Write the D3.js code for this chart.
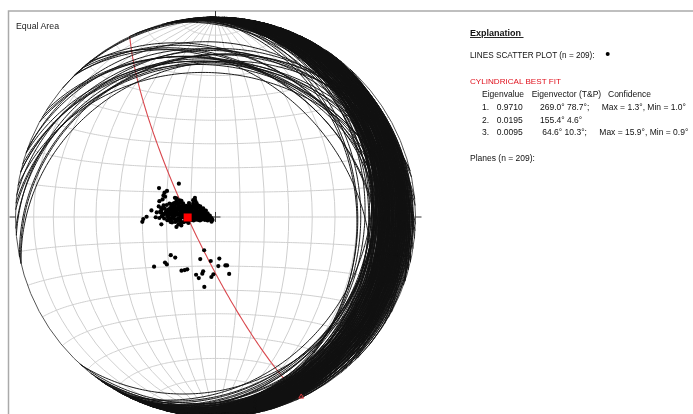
<!DOCTYPE html>
<html>
<head>
<meta charset="utf-8">
<script src="https://cdn.jsdelivr.net/npm/d3@7"></script>
<style>
    body { margin: 0; background: #fff; }
    svg { display: block; font-family: "Liberation Sans", Arial, sans-serif; filter: blur(0.3px); }
</style>
</head>
<body>
<svg width="693" height="414"></svg>
<script>
let posUpperScatter = [
    [-15.2,13.4],[-23.4,11.5],[-20,10.4],[-21,9.7],[-21.4,8.6],[-20.7,8.1],[-21.7,7],[-23,6.3],
    [-26.2,2.6],[-28.2,0.1],[-29.6,-0.8],[-30,-1.9],[-24.4,-0.1],[-22.1,-2.9],[-15.9,-4]
];
let posLowerScatter = [
    [-4.7,-13.5],[-18.7,-15.3],[-16.9,-16.3],[-6.4,-17.1],[1.6,-16.9],[-2,-17.9],[-21.4,-18.2],[-20.7,-19],
    [-26.3,-19.7],[1.2,-20],[4.2,-19.7],[4.9,-19.7],[-12.1,-21.2],[-13.2,-21.5],[-14.6,-21.7],[-5.3,-22.1],
    [-5.7,-23.1],[-0.9,-23.4],[-1.8,-24.5],[5.9,-23.2],[-8.4,-23.5],[-7.3,-24.9],[-5,-28.6]
];
let posCluster = [
    [-16.6,7.7],[-15.9,7.5],[-8.4,7.7],
    [-14.6,6.7],[-13.9,6.5],[-9.1,6.8],[-8.2,6.5],
    [-16.9,5.6],[-15.9,5.4],[-14.6,5.7],[-13.2,5.5],[-10.8,5.6],[-9.1,5.4],[-7.7,5.6],
    [-18,4.5],[-16.6,4.3],[-15.2,4.6],[-14.2,4.4],[-13.2,4.6],[-12.5,4.3],[-11.8,4.5],[-10.5,4.6],[-9.4,4.3],[-8.2,4.5],[-7,4.6],[-6.2,4.3],
    [-22.1,3.5],[-20.7,3.3],[-18.4,3.6],[-17.3,3.4],[-15.9,3.5],[-14.8,3.7],[-13.7,3.4],[-12.5,3.5],[-11.4,3.3],[-10.5,3.6],[-9.9,3.4],[-9.4,3.6],[-8.2,3.4],[-7.2,3.6],[-6,3.4],[-5,3.5],
    [-22.1,2.6],[-20,2.4],[-18.9,2.7],[-17.8,2.5],[-16.6,2.6],[-15.5,2.8],[-14.4,2.5],[-13.2,2.6],[-12.1,2.4],[-11.1,2.7],[-10.5,2.5],[-9.9,2.6],[-8.8,2.4],[-8.2,2.7],[-7.7,2.6],[-6.6,2.4],[-5.7,2.7],[-4.7,2.5],[-3.9,2.6],
    [-22.1,1.6],[-20.7,1.4],[-19.3,1.7],[-18.2,1.5],[-17.1,1.6],[-16,1.8],[-14.9,1.5],[-13.9,1.6],[-12.8,1.4],[-11.8,1.7],[-11.2,1.5],[-10.7,1.6],[-9.6,1.4],[-9.1,1.7],[-8.6,1.6],[-7.5,1.4],[-7,1.7],[-6.4,1.6],[-5.4,1.4],[-5,1.7],[-4.3,1.6],[-3.2,1.5],
    [-21.4,0.7],[-19.7,0.5],[-18.7,0.8],[-17.5,0.6],[-16.4,0.7],[-15.2,0.9],[-14.2,0.6],[-13,0.7],[-12.4,0.5],[-11.8,0.8],[-10.9,0.6],[-10.2,0.7],[-9.8,0.5],[-8.7,0.8],[-8.1,0.6],[-7.7,0.7],[-6.6,0.5],[-6,0.8],[-5.5,0.7],[-4.5,0.5],[-3.8,0.8],[-3.4,0.7],[-2.3,0.6],
    [-19.3,-0.3],[-18.4,-0.5],[-17.3,-0.2],[-15.2,-0.4],[-14.1,-0.3],[-13.2,-0.1],[-12.6,-0.4],[-12,-0.3],[-11,-0.5],[-10,-0.2],[-9.4,-0.4],[-8.9,-0.3],[-7.9,-0.5],[-7.3,-0.2],[-6.8,-0.3],[-5.7,-0.5],[-5.2,-0.2],[-4.7,-0.3],[-3.6,-0.5],[-3.1,-0.2],[-2.6,-0.3],[-1.6,-0.4],
    [-18.9,-1.2],[-18,-1.4],[-16.2,-1.1],[-14.3,-1.3],[-9.8,-1.2],[-8.9,-1.4],[-8,-1.1],[-7,-1.2],[-6.3,-1.4],[-5.7,-1.1],[-4.3,-1.2],[-3.2,-1.4],[-2.3,-1.1],[-1.2,-1.2],
    [-17.7,-2.2],[-16.4,-2],[-14.3,-2.3],[-1.6,-1.9],
    [-23.2,4.2],[-22.6,2],[-21.9,0.3],[-21.2,4.6],[-20.9,-0.6],[-20.3,1.9],[-19.9,4.8],[-19.6,-1.3],[-19.1,3.1],[-18.8,5.4],[-18.3,-2],[-17.9,3],[-17.6,5.2],[-17,0.2],[-16.7,-0.8],
    [-16,6.2],[-15.6,-1.6],[-15.1,-3],[-14.7,-0.9],[-13.9,-3.4],[-13,-2.1],[-12,-1.8],[-11,-2.4],[-22.9,-0.4],[-24,1.8]
];
let eigenvalues = ["0.9710", "0.0195", "0.0095"];
let eigenTrend = [269.0, 155.4, 64.6];
let eigenPlunge = [78.7, 4.6, 10.3];
let confidenceMax = ["1.3", null, "15.9"];
let confidenceMin = ["1.0", null, "0.9"];
let fitEndTrend = 154.5;
let fitEndPlunge = 0.5;
let lineCount = 209;
let planeCount = 209;

function drawNet(){
    let svg = d3.select("svg"),
        cx = 215.5,
        cy = 217,
        radius = 200;

    let projection = d3.geoAzimuthalEqualArea()
        .rotate([0, 0])
        .clipAngle(90)
        .scale(radius / Math.SQRT2)
        .translate([cx, cy])
        .precision(0.2);

    let path = d3.geoPath().projection(projection);

    // trend and plunge of a lower hemisphere line into net longitude and latitude
    function toNet(trend, plunge){
        let t = trend * Math.PI / 180,
            p = plunge * Math.PI / 180,
            north = Math.cos(p) * Math.cos(t),
            east = Math.cos(p) * Math.sin(t),
            down = Math.sin(p);
        return [Math.atan2(east, down) * 180 / Math.PI, Math.asin(north) * 180 / Math.PI];
    }

    function greatCircle(pole){
        let ring = d3.geoCircle().center(pole).radius(90).precision(1)().coordinates[0];
        return {type: "LineString", coordinates: ring};
    }

    let poles = posUpperScatter.concat(posCluster, posLowerScatter);

    // frame, only top and left show
    svg.append("path")
        .attr("d", d3.line()([[8.5, 414], [8.5, 11], [693, 11]]))
        .attr("fill", "none")
        .attr("stroke", "#aaa")
        .attr("stroke-width", 1.5);

    svg.append("path")
        .datum(d3.geoGraticule().extent([[-90, -90], [90.01, 90.01]]).step([10, 10]).precision(1)())
        .attr("fill", "none")
        .attr("stroke", "#cfcfcf")
        .attr("stroke-width", 1)
        .attr("d", path);

    svg.append("circle")
        .attr("cx", cx)
        .attr("cy", cy)
        .attr("r", radius)
        .attr("fill", "none")
        .attr("stroke", "#555")
        .attr("stroke-width", 1);

    // ticks at the rim and cross at the centre
    let ticks = [
        [[cx, cy - radius - 6], [cx, cy - radius]],
        [[cx - radius - 6, cy], [cx - radius, cy]],
        [[cx + radius, cy], [cx + radius + 6, cy]],
        [[cx - 5, cy], [cx + 5, cy]],
        [[cx, cy - 5], [cx, cy + 5]]
    ];
    svg.append("g")
        .selectAll("path")
        .data(ticks)
        .join("path")
        .attr("d", d3.line())
        .attr("stroke", "#333")
        .attr("stroke-width", 1);

    // best fit plane, pole is the third eigenvector
    svg.append("path")
        .datum(greatCircle(toNet(eigenTrend[2], eigenPlunge[2])))
        .attr("fill", "none")
        .attr("stroke", "#d9484e")
        .attr("stroke-width", 1.1)
        .attr("d", path);

    svg.append("g")
        .selectAll("path")
        .data(poles)
        .join("path")
        .attr("fill", "none")
        .attr("stroke", "#111")
        .attr("stroke-width", 0.95)
        .attr("d", d => path(greatCircle(d)));

    svg.append("g")
        .selectAll("circle")
        .data(poles)
        .join("circle")
        .attr("cx", d => projection(d)[0])
        .attr("cy", d => projection(d)[1])
        .attr("r", 2.1)
        .attr("fill", "#000");

    let e1 = projection(toNet(eigenTrend[0], eigenPlunge[0])),
        fitEnd = projection(toNet(fitEndTrend, fitEndPlunge));

    svg.append("rect")
        .attr("x", e1[0] - 4)
        .attr("y", e1[1] - 4)
        .attr("width", 8)
        .attr("height", 8)
        .attr("fill", "#f00");

    svg.append("path")
        .attr("d", d3.symbol(d3.symbolTriangle, 10)())
        .attr("transform", "translate(" + fitEnd + ")")
        .attr("fill", "none")
        .attr("stroke", "#d8363a");

    // labels
    function label(x, y, txt, fill, size){
        return svg.append("text")
            .attr("x", x)
            .attr("y", y)
            .attr("font-size", size || 8.5)
            .attr("fill", fill || "#111")
            .text(txt);
    }

    label(16, 29, "Equal Area", "#222", 8.8);

    label(470, 36, "Explanation\u00a0", "#111", 9)
        .attr("font-weight", "bold")
        .attr("text-decoration", "underline");

    label(470, 58, "LINES SCATTER PLOT (n = " + lineCount + "):", "#111", 8.2);
    svg.append("circle")
        .attr("cx", 607.7)
        .attr("cy", 54)
        .attr("r", 2)
        .attr("fill", "#000");

    label(470, 84, "CYLINDRICAL BEST FIT", "#e0101c", 8.1);

    label(482, 97, "Eigenvalue");
    label(531.7, 97, "Eigenvector (T&P)");
    label(608, 97, "Confidence");

    let rowY = [110, 122.5, 135],
        vectorX = [540, 540, 542.3],
        confX = [601.7, null, 599.3];

    eigenvalues.forEach(function(val, i){
        let end = confidenceMax[i] ? ";" : "";
        label(482, rowY[i], (i + 1) + ".");
        label(496.7, rowY[i], val);
        label(vectorX[i], rowY[i], eigenTrend[i].toFixed(1) + "\u00b0  " + eigenPlunge[i].toFixed(1) + "\u00b0" + end);
        if(confidenceMax[i]){
            label(confX[i], rowY[i], "Max = " + confidenceMax[i] + "\u00b0, Min = " + confidenceMin[i] + "\u00b0");
        }
    });

    label(470, 161, "Planes (n = " + planeCount + "):");
}

drawNet();
</script>
</body>
</html>
